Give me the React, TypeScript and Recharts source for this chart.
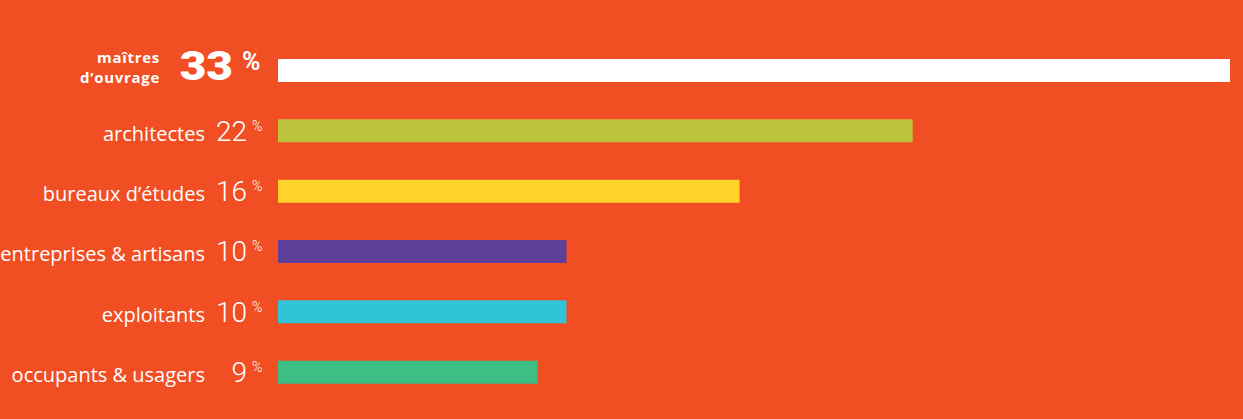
import { BarChart, Bar, XAxis, YAxis, Cell } from 'recharts'

const CATEGORIES = [
  'maîtres d’ouvrage',
  'architectes',
  'bureaux d’études',
  'entreprises & artisans',
  'exploitants',
  'occupants & usagers',
]
const SHARES = [33, 22, 16, 10, 10, 9]
const BAR_COLORS = ['#ffffff', '#bfc43f', '#ffd32a', '#5e3f9a', '#31c3d7', '#3dbe85']
const BG = '#f14e23'

const chartData = CATEGORIES.map((name, i) => ({ name, value: SHARES[i] }))

const LABEL_FONT = "'Open Sans', sans-serif"
const NUM_FONT = 'Roboto, sans-serif'

// category name + big number + small % sign, left of each bar
function CategoryTick(props: any) {
  const { x, y, index } = props
  const name: string = CATEGORIES[index]
  const value = SHARES[index]

  if (index === 0) {
    // the lead category is set bold, name on two lines
    const l1 = name.split(' ')[0]
    const l2 = name.slice(l1.length + 1)
    return (
      <g fill="#fff">
        <text x={x - 118} y={y - 7} textAnchor="end" fontFamily={LABEL_FONT} fontWeight={700}
          fontSize={15} letterSpacing={0.7}>
          {l1}
        </text>
        <text x={x - 118} y={y + 13} textAnchor="end" fontFamily={LABEL_FONT} fontWeight={700}
          fontSize={15} letterSpacing={0.7}>
          {l2}
        </text>
        <text transform={`translate(${x - 45},${y + 10}) scale(1.15,1)`} textAnchor="end"
          fontFamily={NUM_FONT} fontWeight={900} fontSize={40}>
          {value}
        </text>
        <text x={x - 36} y={y} textAnchor="start" fontFamily={NUM_FONT} fontWeight={700} fontSize={25}>
          %
        </text>
      </g>
    )
  }

  return (
    <g fill="#fff">
      <text x={x - 73} y={y + 10} textAnchor="end" fontFamily={LABEL_FONT} fontSize={20}>
        {name}
      </text>
      <text x={x - 31} y={y + 10} textAnchor="end" fontFamily={NUM_FONT} fontWeight={300} fontSize={28}>
        {value}
      </text>
      <text x={x - 26} y={y} textAnchor="start" fontFamily={NUM_FONT} fontWeight={300} fontSize={14}>
        %
      </text>
    </g>
  )
}

export default function App() {
  return (
    <div style={{ position: 'absolute', left: 0, top: 0, width: 1243, height: 419, background: BG }}>
      <BarChart
        width={1243}
        height={419}
        data={chartData}
        layout="vertical"
        margin={{ top: 40, right: 13, left: 0, bottom: 17 }}
      >
        <XAxis type="number" domain={[0, 33]} hide />
        <YAxis
          type="category"
          dataKey="name"
          width={278}
          axisLine={false}
          tickLine={false}
          tickSize={0}
          tickMargin={0}
          interval={0}
          tick={<CategoryTick />}
        />
        <Bar dataKey="value" barSize={23} isAnimationActive={false}>
          {chartData.map((d, i) => (
            <Cell key={d.name} fill={BAR_COLORS[i]} />
          ))}
        </Bar>
      </BarChart>
    </div>
  )
}
